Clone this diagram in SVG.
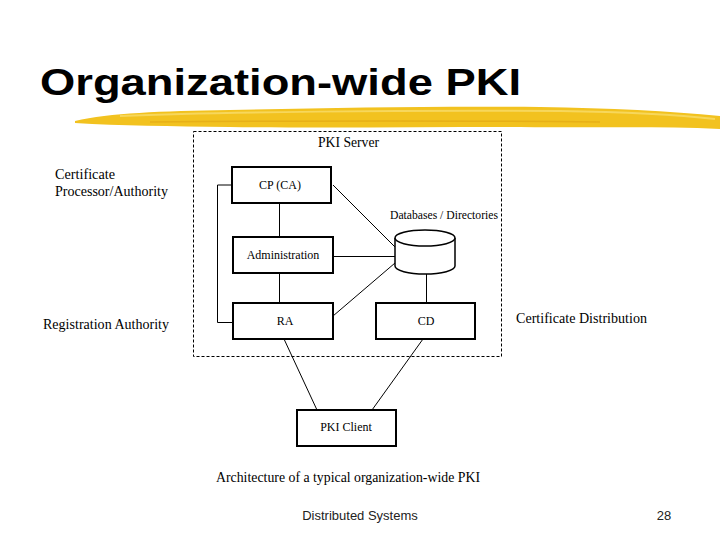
<svg xmlns="http://www.w3.org/2000/svg" width="720" height="540" viewBox="0 0 720 540">
<style>
.box{fill:#fff;stroke:#000;stroke-width:2}
.ln{fill:none;stroke:#000;stroke-width:1}
.t{font-family:"Liberation Serif","Times New Roman",serif;font-size:12px;fill:#000}
.l{font-family:"Liberation Serif","Times New Roman",serif;font-size:14.5px;fill:#000}
.c{text-anchor:middle}
.s{font-family:"Liberation Sans",sans-serif;font-size:13px;fill:#222}
</style>
<rect width="720" height="540" fill="#fff"/>
<text x="40" y="95" font-family="Liberation Sans,Arial,sans-serif" font-weight="bold" font-size="37" textLength="481" lengthAdjust="spacingAndGlyphs">Organization-wide PKI</text>
<g id="brush">
<path d="M75,121 C110,113 160,111 230,110 C330,108 430,106 540,107 C610,108 670,111 720,116 L720,129 C660,126 600,128 520,127 C420,127 320,128 230,127 C170,126 120,126 75,123 Z" fill="#F2C21F"/>
<path d="M120,116 C220,112 400,110 560,111 C630,112 680,115 715,119" fill="none" stroke="#F8DC6A" stroke-width="2" opacity="0.8"/>
<path d="M150,122 C260,121 420,120 600,122" fill="none" stroke="#E3A814" stroke-width="1.5" opacity="0.7"/>
</g>
<g id="server">
<rect x="193.5" y="131.5" width="308" height="225" fill="none" stroke="#000" stroke-width="1" stroke-dasharray="3,2"/>
<text class="l" x="318" y="147" style="font-size:14px" textLength="61" lengthAdjust="spacingAndGlyphs">PKI Server</text>
</g>
<g id="connectors">
<path class="ln" d="M232,185 H217.5 V322.5 H233"/>
<path class="ln" d="M279.5,203 V237"/>
<path class="ln" d="M279.5,273 V303"/>
<path class="ln" d="M333,256.5 H395"/>
<path class="ln" d="M333,185 L395,247"/>
<path class="ln" d="M333,316 L395,263"/>
<path class="ln" d="M426.5,274 V303"/>
<path class="ln" d="M284,339 L317,410"/>
<path class="ln" d="M423,339 L372,410"/>
</g>
<g id="cp"><rect class="box" x="232" y="167" width="99" height="36"/><text class="t c" x="280" y="189">CP (CA)</text></g>
<g id="admin"><rect class="box" x="233" y="237" width="100" height="36"/><text class="t c" x="283" y="259">Administration</text></g>
<g id="ra"><rect class="box" x="233" y="303" width="100" height="36"/><text class="t c" x="285" y="325">RA</text></g>
<g id="cd"><rect class="box" x="376" y="303" width="99" height="36"/><text class="t c" x="426" y="325">CD</text></g>
<g id="db">
<path d="M395,238 V266 A30,8 0 0 0 455,266 V238" fill="#fff" stroke="#000" stroke-width="1.5"/>
<ellipse cx="425" cy="238" rx="30" ry="8" fill="#fff" stroke="#000" stroke-width="1.5"/>
<text class="t" x="390" y="219" style="font-size:11.5px" textLength="108" lengthAdjust="spacingAndGlyphs">Databases / Directories</text>
</g>
<g id="client"><rect class="box" x="297" y="410" width="99" height="36"/><text class="t c" x="346" y="431">PKI Client</text></g>
<g id="labels">
<text class="l" x="55" y="179" textLength="60" lengthAdjust="spacingAndGlyphs">Certificate</text>
<text class="l" x="55" y="196" textLength="113" lengthAdjust="spacingAndGlyphs">Processor/Authority</text>
<text class="l" x="43" y="329" textLength="126" lengthAdjust="spacingAndGlyphs">Registration Authority</text>
<text class="l" x="516" y="323" textLength="131" lengthAdjust="spacingAndGlyphs">Certificate Distribution</text>
<text class="l" x="216" y="482" textLength="264" lengthAdjust="spacingAndGlyphs">Architecture of a typical organization-wide PKI</text>
<text class="s" x="360" y="520" text-anchor="middle">Distributed Systems</text>
<text class="s" x="664" y="520" text-anchor="middle">28</text>
</g>
</svg>
